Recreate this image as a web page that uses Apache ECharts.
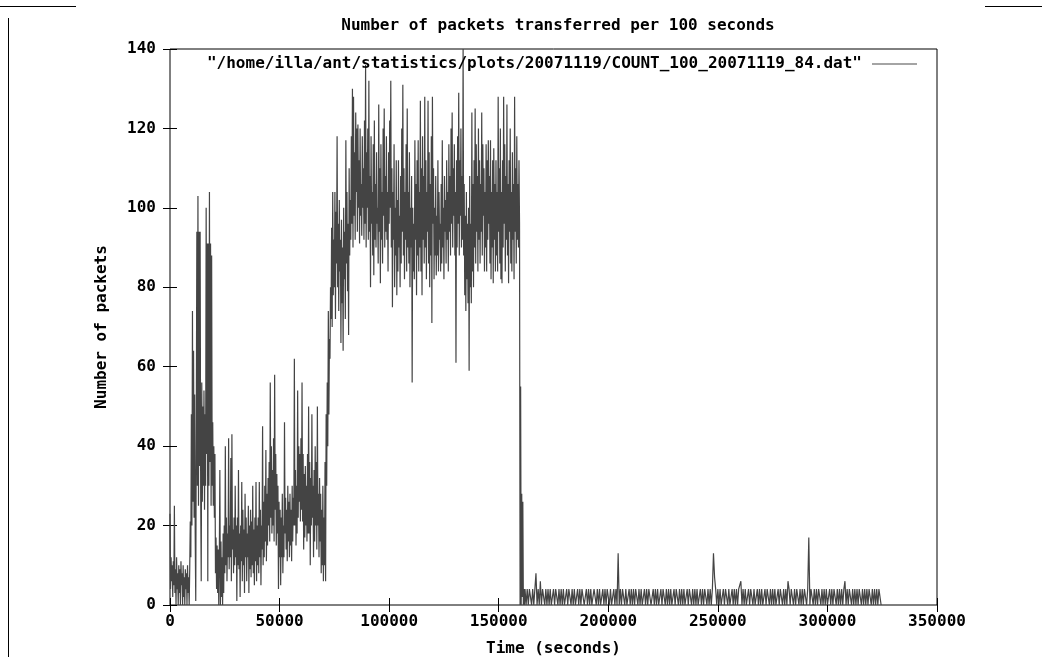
<!DOCTYPE html>
<html>
<head>
<meta charset="utf-8">
<script src="https://cdn.jsdelivr.net/npm/echarts@6/dist/echarts.min.js"></script>
<style>
body { margin: 0; background: #fff; }
#chart { position: absolute; left: 0; top: 0; width: 966px; height: 657px; }
.rule { position: absolute; background: #000; }
</style>
</head>
<body>
<div class="rule" style="left:0;top:6px;width:76px;height:1px"></div>
<div class="rule" style="left:985px;top:6px;width:57px;height:1px"></div>
<div class="rule" style="left:8px;top:18px;width:1px;height:639px"></div>
<div id="chart"></div>
<script>
// busy part read every 250 s, quiet tail every 500 s
const BUSY_STEP = 250
const TAIL_START = 162000
const TAIL_STEP = 500

// 0 .. 71000 s
const earlyCounts = [
  23, 4, 12, 6, 10, 2, 11, 5, 25, 3,
  9, 0, 12, 4, 8, 0, 10, 3, 9, 0,
  11, 5, 8, 0, 10, 2, 7, 0, 9, 4,
  8, 0, 10, 3, 7, 0, 9,
  21, 12, 48, 20, 74, 26, 64, 22, 53, 18,
  1, 45, 94, 30, 103, 25, 94, 35, 94, 28,
  6, 56, 26, 50, 30, 54, 24, 48, 30, 100,
  38, 91, 6, 91, 30, 104, 36, 91, 25, 88,
  30, 46, 25, 40, 22, 38, 8, 17, 4, 15,
  3, 14, 0, 12, 34, 0, 16, 2, 12, 0,
  18, 3, 20, 8, 40, 10, 22, 6, 18, 12,
  42, 9, 20, 12, 37, 6, 43, 14, 19, 8,
  22, 10,
  30, 12, 20, 1, 22, 10, 34, 9, 18, 2,
  20, 11, 31, 6, 24, 10, 19, 3, 28, 12,
  22, 6, 18, 12, 25, 3, 20, 9, 24, 7,
  21, 10, 30, 8, 19, 5, 22, 11, 31, 6,
  20, 10,
  22, 8, 31, 12, 24, 5, 20, 14, 45, 10,
  26, 12, 30, 16, 39, 11, 28, 15, 32, 20,
  36, 16, 56, 22, 40, 18, 34, 20, 42, 16,
  58, 24,
  38, 15, 33, 18, 30, 4, 26, 12, 24, 5,
  22, 12, 28, 8, 20, 12, 46, 18, 27, 14,
  24, 11, 30, 16, 26, 12, 28, 15, 24, 11,
  30, 16, 27, 20, 62, 20, 34, 15, 30, 18,
  54, 22, 40, 26, 38, 21, 42, 24, 56, 21,
  38, 14, 33, 17, 35, 20, 30, 16, 38, 18,
  50, 18, 36, 10, 32, 20, 48, 22, 30, 12,
  34, 16, 40, 20, 36, 14, 50, 20, 28, 12,
  32, 16,
  28, 8, 24, 10, 30, 6, 22, 10, 36, 6
]

// 71250 .. 161750 s
const plateauCounts = [
  48, 30, 56, 40, 74, 48, 67, 62, 80, 72,
  95, 70, 104, 78, 92, 80, 104, 72, 99, 86,
  118, 80, 96, 74, 102, 84, 92, 66, 97, 76,
  90, 64, 100, 82, 94, 72, 117, 86, 104, 79,
  96, 68, 110, 88, 102, 92, 118, 96, 130, 90,
  128, 98, 114, 92, 124, 104, 120, 94, 121, 100,
  112, 91, 120, 98, 106, 93, 118, 100, 110, 92,
  122, 96, 136, 90, 114, 100, 120, 92, 132, 94,
  108, 80, 118, 96, 104, 88, 116, 83, 122, 92,
  106, 90, 114, 96, 100, 86, 126, 94, 110, 81,
  116, 92, 104, 86, 120, 98, 125, 90, 108, 94,
  118, 92, 104, 84, 114, 96, 122, 100, 132, 90,
  110, 75, 104, 92, 116, 80, 100, 88, 112, 78,
  102, 84, 112, 90, 98, 80, 108, 86, 120, 94,
  131, 88, 110, 82, 104, 92, 116, 84, 125, 90,
  104, 86, 114, 80, 100, 90, 108, 56, 100, 84,
  96, 82, 117, 92, 106, 78, 112, 88, 117, 84,
  104, 90, 127, 84, 110, 78, 118, 92, 108, 86,
  128, 90, 112, 82, 104, 94, 127, 86, 114, 80,
  106, 88, 118, 71, 128, 96, 110, 82, 100, 88,
  108, 83, 98, 88, 112, 84, 104, 92, 96, 84,
  106, 86, 117, 90, 100, 82, 108, 94, 102, 86,
  112, 92, 104, 84, 116, 94, 108, 88, 120, 96,
  124, 90, 110, 98, 116, 88, 104, 61, 112, 90,
  118, 96, 129, 88, 112, 98, 120, 90, 108, 92,
  140, 88, 106, 78, 98, 74, 104, 82, 96, 76,
  100, 59, 108, 80, 96, 76, 124, 84, 106, 80,
  112, 90, 125, 86, 116, 94, 108, 84, 120, 92,
  112, 86, 106, 94, 124, 88, 116, 98, 110, 84,
  104, 90, 116, 84, 112, 92, 117, 96, 108, 86,
  117, 82, 104, 90, 112, 81, 115, 92, 106, 84,
  112, 88, 104, 84, 128, 94, 110, 86, 120, 82,
  104, 81, 112, 90, 128, 96, 116, 84, 108, 92,
  126, 88, 106, 81, 112, 94, 120, 86, 104, 84,
  114, 92, 106, 82, 128, 94, 110, 86, 118, 92,
  106, 90, 112, 96,
  0, 55, 0, 28, 2, 26, 0, 4, 0
]

// 162000 .. 324500 s
const tailCounts = [
  4,0,4,0,4,4,0,4,0,0, 8,0,4,0,6,0,4,4,0,4,
  0,4,0,4,0,0,4,0,4,4, 0,4,0,4,0,4,0,0,4,0,
  4,4,0,4,0,4,0,2,4,0, 4,0,4,4,0,0,4,0,4,0,
  4,0,0,4,4,0,4,0,4,0, 2,4,0,4,0,4,4,0,4,0,
  0,4,0,4,0,13,0,4,0,4, 4,0,4,0,0,4,0,4,0,4,
  0,4,4,0,4,0,4,0,0,4, 0,4,0,4,4,0,2,4,0,4,
  0,4,0,0,4,0,4,4,0,4, 0,4,0,4,0,0,4,0,4,4,
  0,4,0,4,0,4,0,0,4,0, 4,4,0,4,0,4,0,4,0,0,
  4,0,4,0,4,4,0,4,0,4, 0,4,13,7,4,0,4,0,4,0,
  0,4,0,4,4,0,4,0,0,4, 0,4,0,4,0,4,4,6,0,4,
  0,4,0,0,4,0,4,4,0,4, 0,2,4,0,4,0,4,0,0,4,
  0,4,4,0,4,0,4,0,4,0, 0,4,0,4,4,0,4,0,4,0,
  6,4,0,4,4,0,4,0,4,4, 0,4,0,4,0,4,4,0,4,17,
  0,4,4,0,4,0,4,0,4,4, 0,4,0,4,0,4,0,0,4,0,
  4,0,4,4,0,4,0,4,0,4, 0,4,6,0,4,0,4,4,0,4,
  0,4,0,4,0,4,4,0,4,0, 4,0,4,0,4,4,0,4,0,4,
  0,4,0,4,4,0
]

const xTicks = { min: 0, max: 350000, interval: 50000 }
const yTicks = { min: 0, max: 140, interval: 20 }
const seriesName = '"/home/illa/ant/statistics/plots/20071119/COUNT_100_20071119_84.dat"'

const busy = earlyCounts.concat(plateauCounts)
const points = busy.map((v, i) => [i * BUSY_STEP, v])
  .concat(tailCounts.map((v, j) => [TAIL_START + j * TAIL_STEP, v]))

const font = 'DejaVu Sans Mono'
const txt = { color: '#000', fontFamily: font, fontWeight: 'bold', fontSize: 16 }
const plain = v => String(v)

const myChart = echarts.init(document.getElementById('chart'))
const option = {
  animation: false,
  title: {
    text: 'Number of packets transferred per 100 seconds',
    left: 553, textAlign: 'center',
    top: 13,
    textStyle: txt
  },
  legend: {
    data: [seriesName],
    right: 44, top: 51,
    align: 'right',
    icon: 'rect',
    itemWidth: 45, itemHeight: 1,
    textStyle: Object.assign({ padding: [0, 5, 0, 0] }, txt)
  },
  grid: {
    left: 170, right: 29, top: 49, bottom: 52,
    outerBoundsMode: 'none',
    containLabel: false,
    show: true, borderColor: '#000', borderWidth: 1
  },
  xAxis: [
    {
      type: 'value', min: xTicks.min, max: xTicks.max, interval: xTicks.interval,
      name: 'Time (seconds)', nameLocation: 'middle', nameGap: 36, nameTextStyle: txt,
      axisLine: { show: false },
      axisTick: { inside: true, length: 7, lineStyle: { color: '#000' } },
      axisLabel: Object.assign({ margin: 9, formatter: plain }, txt),
      splitLine: { show: false }
    },
    {
      type: 'value', position: 'top', min: xTicks.min, max: xTicks.max, interval: xTicks.interval,
      axisLine: { show: false },
      axisTick: { inside: true, length: 7, lineStyle: { color: '#000' } },
      axisLabel: { show: false },
      splitLine: { show: false }
    }
  ],
  yAxis: [
    {
      type: 'value', min: yTicks.min, max: yTicks.max, interval: yTicks.interval,
      name: 'Number of packets', nameLocation: 'middle', nameGap: 60, nameTextStyle: txt,
      axisLine: { show: false },
      axisTick: { show: true, inside: true, length: 7, lineStyle: { color: '#000' } },
      axisLabel: Object.assign({ margin: 14, formatter: plain }, txt),
      splitLine: { show: false }
    },
    {
      type: 'value', position: 'right', min: yTicks.min, max: yTicks.max, interval: yTicks.interval,
      axisLine: { show: false },
      axisTick: { show: true, inside: true, length: 7, lineStyle: { color: '#000' } },
      axisLabel: { show: false },
      splitLine: { show: false }
    }
  ],
  series: [
    {
      name: seriesName,
      type: 'line',
      showSymbol: false,
      symbol: 'none',
      color: '#4a4a4a',
      lineStyle: { width: 1.2, color: '#444' },
      itemStyle: { color: '#4a4a4a' },
      data: points
    }
  ]
}
myChart.setOption(option)
window.addEventListener('resize', function () {
  myChart.resize()
})
</script>
</body>
</html>
